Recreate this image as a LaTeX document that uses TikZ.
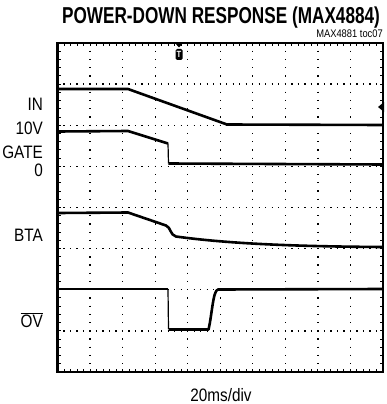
\documentclass[tikz,border=0pt]{standalone}
\usepackage{graphicx}
\usepackage{fontspec}
\setmainfont{Liberation Sans}[FakeStretch=0.85]
\newfontfamily\titlefont{Liberation Sans}
\usetikzlibrary{calc}
\tikzstyle{scopeframe} = [line width=2.4pt]
\tikzstyle{griddot} = [line width=1.3pt]
\tikzstyle{trace} = [line width=2.6pt, line join=round]
\tikzstyle{chlabel} = [anchor=east, inner sep=0pt, font=\fontsize{18}{20}\selectfont]

\begin{document}
\begin{tikzpicture}[x=1pt, y=-1pt]
    \useasboundingbox (0,0) rectangle (386,404);

    % title and notes
    \node (title) at (221,18) {\scalebox{0.747}[1]{\titlefont\bfseries\fontsize{23}{24}\selectfont POWER-DOWN RESPONSE (MAX4884)}};
    \node (toc) [anchor=east, inner sep=0pt] at (383,34) {\fontsize{11}{12}\selectfont MAX4881 toc07};
    \node (tdiv) at (221,395) {\fontsize{18}{20}\selectfont 20ms/div};

    % channel labels
    \node (lin) [chlabel] at (43,104) {IN};
    \node (l10v) [chlabel] at (43,128) {10V};
    \node (lgate) [chlabel] at (43,152) {GATE};
    \node (lzero) [chlabel] at (43,170) {0};
    \node (lbta) [chlabel] at (43,235) {BTA};
    \node (lov) [chlabel] at (43,320) {$\overline{\hbox{OV}}$};

    % grid
    \foreach \k in {1,...,7}
        \draw [griddot, dash pattern=on 1.3pt off 5.21pt, dash phase=0.65pt] (57.5,43+\k*41.125) -- (383,43+\k*41.125);
    \foreach \k in {1,...,9}
        \draw [griddot, dash pattern=on 1.3pt off 6.925pt, dash phase=0.65pt] (57.5+\k*32.55,43) -- (57.5+\k*32.55,372);

    % border ticks
    \foreach \k in {1,...,49} {
        \draw [line width=1pt] (57.5+\k*6.51,43) -- ++(0,3);
        \draw [line width=1pt] (57.5+\k*6.51,372) -- ++(0,-3);
    }
    \foreach \k in {1,...,39} {
        \draw [line width=1pt] (57.5,43+\k*8.225) -- ++(3,0);
        \draw [line width=1pt] (383,43+\k*8.225) -- ++(-3,0);
    }

    % frame
    \draw [scopeframe] (57.5,43) rectangle (383,372);

    % trigger and ground markers
    \fill (175,43) -- (183,43) -- (179,47.5) -- cycle;
    \node (trig) [fill=black, text=white, rounded corners=1.5pt, inner sep=0.6pt,
        minimum width=7pt, minimum height=11pt, font=\bfseries\fontsize{9}{9}\selectfont] at (179,54.5) {T};
    \fill (384,102) -- (378,107) -- (384,112) -- cycle;

    % IN
    \draw [trace] (58,89) -- (128,89) -- (227,124.5) -- (383,125);
    % GATE
    \draw [trace] (58,131.5) -- (128,131) -- (168,143.5);
    \draw [line width=1.2pt] (168,143.5) -- (168.5,163.5);
    \draw [trace] (168.5,163.5) -- (383,164.5);
    % BTA
    \draw [trace] (58,213) -- (128,212.5) -- (166,225.5)
        .. controls (171,227.5) and (170,235) .. (176,236.5)
        .. controls (230,244) and (300,246.5) .. (383,247);
    % OV
    \draw [trace] (58,289) -- (168,289);
    \draw [line width=1.2pt] (168,289) -- (168.5,329);
    \draw [trace] (168.5,329.5) -- (208.5,329.5)
        .. controls (212,315) and (213,290) .. (218,289.5) -- (383,289);
\end{tikzpicture}
\end{document}
